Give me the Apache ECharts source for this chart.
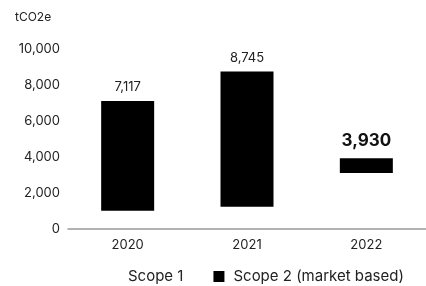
<!DOCTYPE html>
<html>
<head>
<meta charset="utf-8">
<script src="https://cdn.jsdelivr.net/npm/echarts@6/dist/echarts.min.js"></script>
<style>
  html, body { margin: 0; padding: 0; background: #fff; }
  #chart { width: 426px; height: 286px; }
</style>
</head>
<body>
<div id="chart"></div>
<script>
// values
const years = ['2020', '2021', '2022'];
const scope1 = [1020, 1240, 3110];
const scope2 = [6097, 7505, 820];
const totals = ['7,117', '8,745', '3,930'];
const yTicks = [0, 2000, 4000, 6000, 8000, 10000];

const FONT = 'Inter, "Liberation Sans", sans-serif';

const chart = echarts.init(document.getElementById('chart'));

const option = {
    animation: false,
    textStyle: { fontFamily: FONT },
    graphic: [{
        type: 'text',
        left: 15,
        top: 11,
        style: { text: 'tCO2e', fontSize: 12, fill: '#222', fontFamily: FONT }
    }],
    legend: {
        top: 264,
        left: 103,
        itemWidth: 11,
        itemHeight: 11,
        itemGap: 30,
        textStyle: { fontSize: 15, color: '#222', fontFamily: FONT, padding: [0, 0, 0, 4] },
        data: [
            { name: 'Scope 1', icon: 'rect' },
            { name: 'Scope 2 (market based)', icon: 'rect' }
        ]
    },
    grid: { left: 68, top: 49, width: 372, height: 180 },
    xAxis: {
        type: 'category',
        data: years,
        axisLine: { lineStyle: { color: '#999', width: 1.5 } },
        axisTick: { show: false },
        axisLabel: { fontSize: 13, color: '#222', margin: 10 }
    },
    yAxis: {
        type: 'value',
        min: yTicks[0],
        max: yTicks[yTicks.length - 1],
        interval: 2000,
        splitLine: { show: false },
        axisLabel: {
            fontSize: 13, color: '#222', margin: 8,
            formatter: v => v.toLocaleString('en-US')
        }
    },
    series: [
        {
            name: 'Scope 1',
            type: 'bar',
            stack: 'total',
            barWidth: 53,
            // scope 1 is not drawn in the original, only its offset shows
            itemStyle: { color: 'rgba(255,255,255,0)' },
            data: scope1
        },
        {
            name: 'Scope 2 (market based)',
            type: 'bar',
            stack: 'total',
            barWidth: 53,
            itemStyle: { color: '#000' },
            data: scope2.map((v, i) => ({
                value: v,
                label: i === 2
                    ? { fontSize: 17, fontWeight: 'bold', color: '#111', distance: 9 }
                    : { fontSize: 13, color: '#222', distance: 7 }
            })),
            label: {
                show: true,
                position: 'top',
                formatter: p => totals[p.dataIndex]
            }
        }
    ]
};

chart.setOption(option);
</script>
</body>
</html>
